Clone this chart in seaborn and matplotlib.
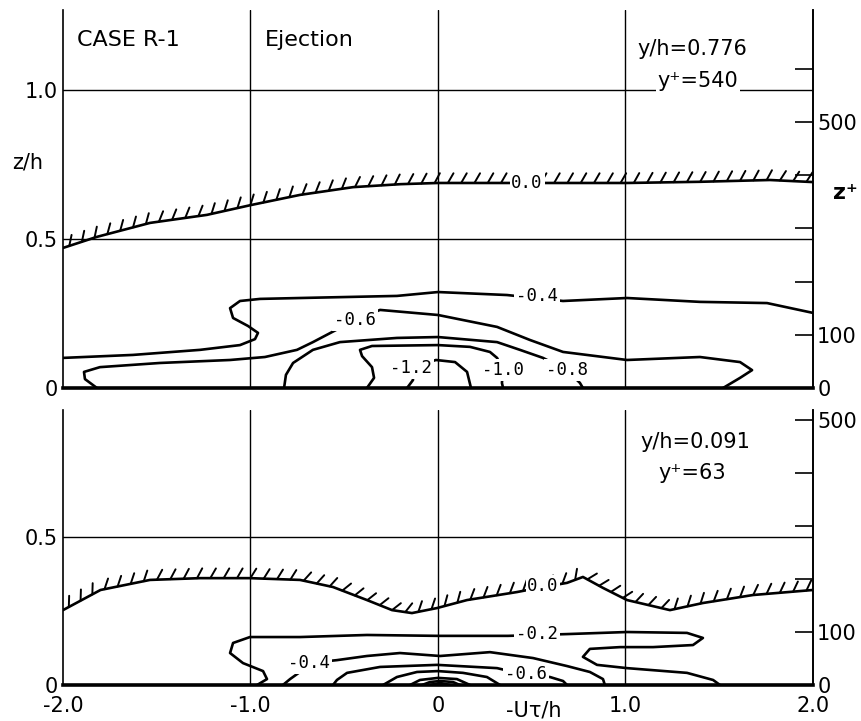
import matplotlib
matplotlib.use("Agg")
import matplotlib.pyplot as plt
import matplotlib.patheffects as pe
import pandas as pd
import seaborn as sns

# ---------------- data ----------------
# Top panel  (y/h = 0.776), x = -U tau / h, z = z/h
top_00_x = [-2.0, -1.82, -1.536, -1.232, -0.997, -0.736, -0.453, -0.2, 0.0, 0.5, 1.008, 1.4, 1.77, 2.0]
top_00_z = [0.470, 0.507, 0.554, 0.581, 0.614, 0.648, 0.674, 0.684, 0.688, 0.688, 0.688, 0.692, 0.698, 0.691]
top_04_x = [-2.0, -1.627, -1.269, -1.056, -0.976, -0.96, -1.013, -1.093, -1.109, -1.056, -0.949, -0.736,
            -0.219, 0.0, 0.368, 0.667, 1.008, 1.397, 1.755, 2.0]
top_04_z = [0.101, 0.111, 0.128, 0.144, 0.164, 0.185, 0.208, 0.235, 0.268, 0.292, 0.299, 0.302,
            0.309, 0.322, 0.312, 0.292, 0.302, 0.289, 0.285, 0.252]
top_06_x = [-1.819, -1.883, -1.888, -1.803, -1.483, -1.109, -0.923, -0.752, -0.667, -0.443, -0.309, 0.0,
            0.315, 0.491, 0.667, 1.008, 1.397, 1.611, 1.675, 1.611, 1.52]
top_06_z = [0.0, 0.03, 0.054, 0.07, 0.084, 0.094, 0.104, 0.128, 0.154, 0.228, 0.262, 0.245,
            0.205, 0.161, 0.121, 0.094, 0.104, 0.087, 0.06, 0.034, 0.0]
top_08_x = [-0.821, -0.811, -0.773, -0.667, -0.523, -0.219, 0.0, 0.315, 0.437, 0.56, 0.688, 0.757, 0.773]
top_08_z = [0.0, 0.044, 0.084, 0.128, 0.154, 0.168, 0.171, 0.154, 0.128, 0.101, 0.06, 0.017, 0.0]
top_10_x = [-0.379, -0.341, -0.352, -0.405, -0.416, -0.352, 0.0, 0.171, 0.277, 0.315, 0.347, 0.341, 0.347]
top_10_z = [0.0, 0.034, 0.07, 0.107, 0.128, 0.141, 0.144, 0.138, 0.121, 0.101, 0.06, 0.017, 0.0]
top_12_x = [-0.165, -0.133, -0.144, -0.011, 0.091, 0.155, 0.176]
top_12_z = [0.0, 0.027, 0.067, 0.094, 0.087, 0.054, 0.0]

top_label_text = ["0.0", "-0.4", "-0.6", "-0.8", "-1.0", "-1.2"]
top_label_x = [0.475, 0.528, -0.443, 0.688, 0.347, -0.144]
top_label_z = [0.688, 0.309, 0.228, 0.06, 0.06, 0.067]

# Bottom panel (y/h = 0.091)
bot_00_x = [-2.0, -1.80, -1.536, -1.269, -1.003, -0.736, -0.56, -0.379, -0.245, -0.139, -0.005, 0.155,
            0.421, 0.56, 0.688, 0.773, 0.88, 1.008, 1.237, 1.413, 1.68, 2.0]
bot_00_z = [0.253, 0.321, 0.355, 0.361, 0.361, 0.355, 0.331, 0.287, 0.253, 0.243, 0.260, 0.287,
            0.314, 0.331, 0.345, 0.365, 0.328, 0.287, 0.253, 0.277, 0.304, 0.321]
bot_02_x = [-0.965, -0.912, -0.933, -1.04, -1.109, -1.093, -1.003, -0.736, -0.379, 0.0, 0.373, 0.528,
            0.688, 1.008, 1.328, 1.413, 1.36, 1.147, 0.971, 0.81, 0.773, 0.848, 1.008, 1.328, 1.467, 1.504]
bot_02_z = [0.0, 0.02, 0.047, 0.074, 0.108, 0.142, 0.162, 0.162, 0.169, 0.166, 0.166, 0.169,
            0.172, 0.179, 0.176, 0.159, 0.135, 0.128, 0.128, 0.122, 0.095, 0.068, 0.057, 0.041, 0.017, 0.0]
bot_04_x = [-0.827, -0.789, -0.736, -0.688, -0.539, -0.379, -0.203, 0.011, 0.277, 0.507, 0.688, 0.81, 0.88, 0.89]
bot_04_z = [0.0, 0.02, 0.044, 0.074, 0.084, 0.098, 0.108, 0.098, 0.111, 0.091, 0.064, 0.044, 0.02, 0.0]
bot_06_x = [-0.56, -0.539, -0.485, -0.309, -0.005, 0.315, 0.469, 0.597, 0.667, 0.688]
bot_06_z = [0.0, 0.017, 0.041, 0.061, 0.068, 0.057, 0.034, 0.027, 0.0135, 0.0]
bot_08_x = [-0.293, -0.219, -0.112, 0.0, 0.133, 0.261, 0.331]
bot_08_z = [0.0, 0.027, 0.044, 0.047, 0.041, 0.027, 0.0]
bot_10_x = [-0.149, -0.096, 0.0, 0.101, 0.171]
bot_10_z = [0.0, 0.017, 0.024, 0.02, 0.0]
bot_12_x = [-0.085, -0.043, 0.011, 0.08, 0.117]
bot_12_z = [0.0, 0.01, 0.0135, 0.01, 0.0]
bot_14_x = [-0.043, 0.011, 0.064]
bot_14_z = [0.0, 0.007, 0.0]

bot_label_text = ["0.0", "-0.2", "-0.4", "-0.6"]
bot_label_x = [0.56, 0.528, -0.688, 0.469]
bot_label_z = [0.334, 0.172, 0.074, 0.036]

x_ticks = [-2.0, -1.0, 0.0, 1.0, 2.0]
x_tick_labels = ["-2.0", "-1.0", "0", "1.0", "2.0"]
top_zticks = [0.0, 0.5, 1.0]
top_zlabels = ["0", "0.5", "1.0"]
bot_zticks = [0.0, 0.5]
bot_zlabels = ["0", "0.5"]
zplus_top_ticks = [0, 100, 200, 300, 400, 500, 600]
zplus_bot_ticks = [0, 100, 200, 300, 400, 500]
zplus_labels = {0: "0", 100: "100", 500: "500"}

# ---------------- style ----------------
sns.set_style("white")
plt.rcParams["font.family"] = ["DejaVu Sans"]
plt.rcParams["font.size"] = 15
for k in ["text.color", "axes.labelcolor", "xtick.color", "ytick.color", "axes.edgecolor"]:
    plt.rcParams[k] = "black"

W, H = 862, 721
fig = plt.figure(figsize=(W / 100, H / 100), dpi=100)
ax1 = fig.add_axes([63 / W, 1 - 388 / H, 750 / W, 378 / H])
ax2 = fig.add_axes([63 / W, 1 - 685 / H, 750 / W, 275 / H])

LW = 1.9


def draw(ax, xs, zs, hatched=False):
    df = pd.DataFrame({"x": xs, "z": zs})
    sns.lineplot(data=df, x="x", y="z", sort=False, estimator=None, color="black",
                 linewidth=LW, ax=ax, legend=False)
    ln = ax.lines[-1]
    ln.set_solid_joinstyle("round")
    ln.set_solid_capstyle("round")
    ln.set_zorder(3)
    if hatched:
        ln.set_path_effects([pe.withTickedStroke(spacing=9.5, angle=60, length=0.85, linewidth=1.4)])


# contours
draw(ax1, top_00_x, top_00_z, hatched=True)
for xs, zs in [(top_04_x, top_04_z), (top_06_x, top_06_z), (top_08_x, top_08_z),
               (top_10_x, top_10_z), (top_12_x, top_12_z)]:
    draw(ax1, xs, zs)
draw(ax2, bot_00_x, bot_00_z, hatched=True)
for xs, zs in [(bot_02_x, bot_02_z), (bot_04_x, bot_04_z), (bot_06_x, bot_06_z),
               (bot_08_x, bot_08_z), (bot_10_x, bot_10_z), (bot_12_x, bot_12_z), (bot_14_x, bot_14_z)]:
    draw(ax2, xs, zs)


def frame(ax, ymax, zticks, zlabels, zplus_ticks, zmax_plus, show_x):
    ax.set_xlim(-2, 2)
    ax.set_ylim(0, ymax)
    ax.spines["top"].set_visible(False)
    for s in ["left", "right"]:
        ax.spines[s].set_linewidth(1.2)
    ax.spines["bottom"].set_linewidth(2.6)
    for s in ["left", "right", "bottom"]:
        ax.spines[s].set_zorder(8)
    ax.set_yticks(zticks)
    ax.set_yticklabels(zlabels)
    ax.set_xticks(x_ticks)
    if show_x:
        ax.set_xticklabels(x_tick_labels)
    else:
        ax.set_xticklabels([])
    ax.tick_params(axis="both", length=0, labelsize=15, pad=4)
    ax.tick_params(axis="x", pad=8)
    ax.set_xlabel("")
    ax.set_ylabel("")
    ax.grid(False)
    for v in [-1.0, 0.0, 1.0]:
        ax.axvline(v, color="black", lw=1.0, zorder=1)
    for h in zticks[1:]:
        ax.axhline(h, color="black", lw=1.0, zorder=1)
    axr = ax.twinx()
    axr.set_ylim(0, zmax_plus)
    axr.set_yticks(zplus_ticks)
    axr.set_yticklabels([zplus_labels.get(t, "") for t in zplus_ticks])
    axr.tick_params(axis="y", direction="in", length=13, width=1.2, pad=3, labelsize=15)
    for s in ["top", "left", "bottom"]:
        axr.spines[s].set_visible(False)
    axr.spines["right"].set_linewidth(1.2)
    axr.set_ylabel("")
    return axr


frame(ax1, 378 / 298, top_zticks, top_zlabels, zplus_top_ticks, 710, False)
frame(ax2, 275 / 296, bot_zticks, bot_zlabels, zplus_bot_ticks, 519, True)

lab_kw = dict(ha="center", va="center", fontsize=12.5, family="DejaVu Sans Mono", zorder=6,
              bbox=dict(facecolor="white", edgecolor="none", pad=1.2))
for t, x, z in zip(top_label_text, top_label_x, top_label_z):
    ax1.text(x, z, t, **lab_kw)
for t, x, z in zip(bot_label_text, bot_label_x, bot_label_z):
    ax2.text(x, z, t, **lab_kw)

# annotations
ax1.text(-1.925, 1.168, "CASE R-1", ha="left", va="center", fontsize=16)
ax1.text(-0.923, 1.168, "Ejection", ha="left", va="center", fontsize=16)
ax1.text(1.061, 1.138, "y/h=0.776", ha="left", va="center", fontsize=15)
ax1.text(1.387, 1.03, "y\u207a=540", ha="center", va="center", fontsize=15, zorder=6,
         bbox=dict(facecolor="white", edgecolor="none", pad=1.0))
ax2.text(1.077, 0.821, "y/h=0.091", ha="left", va="center", fontsize=15)
ax2.text(1.173, 0.716, "y\u207a=63", ha="left", va="center", fontsize=15)

fig.text(28 / W, 1 - 163 / H, "z/h", ha="center", va="center", fontsize=15)
fig.text(845 / W, 1 - 193 / H, "z\u207a", ha="center", va="center", fontsize=16, fontweight="bold")
fig.text(534 / W, 1 - 710 / H, "-U\u03c4/h", ha="center", va="center", fontsize=15)

fig.savefig("out.png", dpi=100, facecolor="white")
